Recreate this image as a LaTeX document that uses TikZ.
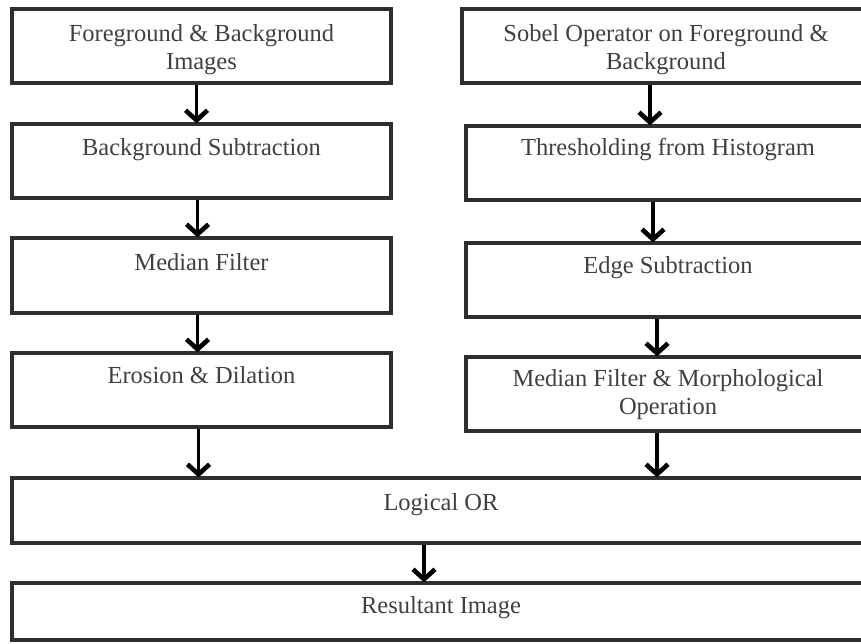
\documentclass[tikz,border=0pt]{standalone}
\usepackage{fontspec}
\setmainfont{Liberation Serif}
\usetikzlibrary{arrows.meta}
\definecolor{txt}{HTML}{404040}
\definecolor{brd}{HTML}{2E2E2E}
\begin{document}
\begin{tikzpicture}[x=1pt,y=-1pt,
  box/.style={draw=brd, line width=3.2pt, fill=white, rectangle, inner sep=0pt},
  lbl/.style={anchor=base, align=center, inner sep=0pt, text=txt,
     font=\fontsize{24.5}{27.5}\selectfont},
  arr/.style={line width=3.8pt, black, -{Straight Barb[length=10pt,width=22pt,line width=4.6pt]}, shorten >=-1pt}
]
\useasboundingbox (0,0) rectangle (861,643);
\clip (0,0) rectangle (861,643);
% left column
\node[box, minimum width=379pt, minimum height=74pt] (L1) at (201.5,46) {};
\node[box, minimum width=379pt, minimum height=74pt] (L2) at (201.5,161) {};
\node[box, minimum width=379pt, minimum height=75pt] (L3) at (201.5,275.5) {};
\node[box, minimum width=379pt, minimum height=74pt] (L4) at (201.5,390) {};
% right column
\node[box, minimum width=408pt, minimum height=74pt] (R1) at (666,46) {};
\node[box, minimum width=404pt, minimum height=74pt] (R2) at (668,163) {};
\node[box, minimum width=404pt, minimum height=74pt] (R3) at (668,280) {};
\node[box, minimum width=404pt, minimum height=74pt] (R4) at (668,394) {};
% bottom
\node[box, minimum width=858pt, minimum height=65pt] (OR) at (441,510.5) {};
\node[box, minimum width=858pt, minimum height=57pt] (RES) at (441,611.5) {};
% labels
\node[lbl] (tL1) at ([yshift=-62pt]L1.north) {Foreground \& Background\\Images};
\node[lbl] (tL2) at ([yshift=-33pt]L2.north) {Background Subtraction};
\node[lbl] (tL3) at ([yshift=-34pt]L3.north) {Median Filter};
\node[lbl] (tL4) at ([yshift=-32pt]L4.north) {Erosion \& Dilation};
\node[lbl] (tR1) at ([yshift=-62pt]R1.north) {Sobel Operator on Foreground \&\\Background};
\node[lbl] (tR2) at ([yshift=-31pt]R2.north) {Thresholding from Histogram};
\node[lbl] (tR3) at ([yshift=-32pt]R3.north) {Edge Subtraction};
\node[lbl] (tR4) at ([yshift=-59pt]R4.north) {Median Filter \& Morphological\\Operation};
\node[lbl] (tOR) at ([yshift=-34pt]OR.north) {Logical OR};
\node[lbl] (tRES) at ([yshift=-32pt]RES.north) {Resultant Image};
% arrows
\draw[arr] ([xshift=-5pt]L1.south) -- ([xshift=-5pt]L2.north);
\draw[arr] ([xshift=-4pt]L2.south) -- ([xshift=-4pt]L3.north);
\draw[arr] ([xshift=-4pt]L3.south) -- ([xshift=-4pt]L4.north);
\draw[arr] ([xshift=-3pt]L4.south) -- ([xshift=-3pt]L4.south |- OR.north);
\draw[arr] ([xshift=-16pt]R1.south) -- ([xshift=-16pt]R1.south |- R2.north);
\draw[arr] ([xshift=-15pt]R2.south) -- ([xshift=-15pt]R3.north);
\draw[arr] ([xshift=-11pt]R3.south) -- ([xshift=-11pt]R4.north);
\draw[arr] ([xshift=-11pt]R4.south) -- ([xshift=-11pt]R4.south |- OR.north);
\draw[arr] ([xshift=-17pt]OR.south) -- ([xshift=-17pt]RES.north);
\end{tikzpicture}
\end{document}
